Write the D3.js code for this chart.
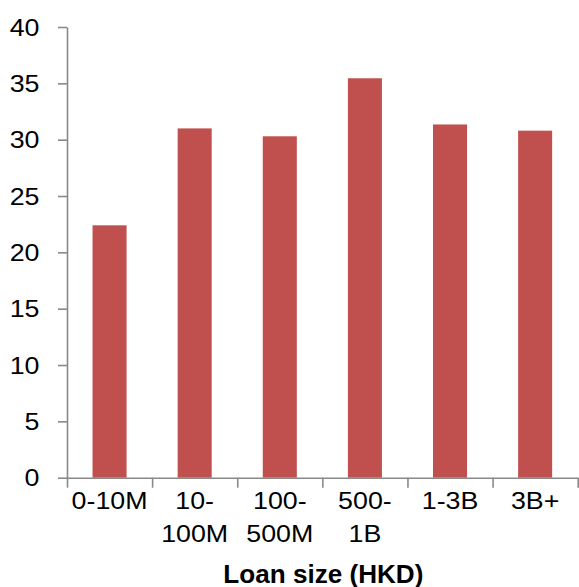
<!DOCTYPE html>
<html>
<head>
<meta charset="utf-8">
<script src="https://cdn.jsdelivr.net/npm/d3@7"></script>
<style>
  html, body { margin: 0; padding: 0; background: #fff; }
  svg { display: block; }
  text { font-family: "Liberation Sans", Arial, sans-serif; fill: #000; }
</style>
</head>
<body>
<div id="chart"></div>
<script>
// Share by loan size bucket (%)
const categories = ["0-10M", "10-100M", "100-500M", "500-1B", "1-3B", "3B+"];
const labelLines = [["0-10M"], ["10-", "100M"], ["100-", "500M"], ["500-", "1B"], ["1-3B"], ["3B+"]];
const values = [22.4, 31.0, 30.3, 35.45, 31.35, 30.8];
const yTicks = [0, 5, 10, 15, 20, 25, 30, 35, 40];
const xTitle = "Loan size (HKD)";

const W = 579, H = 587;
const plotLeft = 67, plotRight = 577.7, plotTop = 27, plotBottom = 477.7;
const stretch = "scale(1.14,1)";

const svg = d3.select("#chart").append("svg").attr("width", W).attr("height", H);

const x = d3.scaleBand().domain(categories).range([plotLeft, plotRight])
  .paddingInner(0.6).paddingOuter(0.3);
const y = d3.scaleLinear().domain([0, 40]).range([plotBottom, plotTop]);
// category boundaries for the x tick marks
const xEdge = d3.scaleLinear().domain([0, categories.length]).range([plotLeft, plotRight]);

// bars
svg.append("g").selectAll("rect").data(values).join("rect")
  .attr("x", (d, i) => x(categories[i]))
  .attr("width", x.bandwidth())
  .attr("y", d => y(d))
  .attr("height", d => y(0) - y(d))
  .attr("fill", "#C0504D");

// y axis
const gy = svg.append("g").attr("transform", `translate(${plotLeft},0)`)
  .call(d3.axisLeft(y).tickValues(yTicks).tickSize(9).tickSizeOuter(0));
gy.select(".domain").attr("stroke", "#898989").attr("stroke-width", 1.6);
gy.selectAll(".tick line").attr("stroke", "#898989").attr("stroke-width", 1.6);
gy.selectAll(".tick text")
  .attr("x", 0).attr("dy", "0.35em")
  .attr("transform", `translate(-27.5,0) ${stretch}`)
  .style("font-size", "23.5px")
  .attr("text-anchor", "end");

// x axis line and boundary ticks
const gx = svg.append("g").attr("transform", `translate(0,${plotBottom})`)
  .call(d3.axisBottom(xEdge).tickValues(d3.range(categories.length + 1))
    .tickSize(10).tickSizeOuter(0).tickFormat(""));
gx.select(".domain").attr("stroke", "#898989").attr("stroke-width", 1.6);
gx.selectAll(".tick line").attr("stroke", "#898989").attr("stroke-width", 1.6);

// category labels (wrapped)
const gl = svg.append("g").selectAll("g").data(categories).join("g")
  .attr("transform", (d, i) => `translate(${x(d) + x.bandwidth() / 2},0)`);
gl.each(function(d, i) {
  const g = d3.select(this);
  labelLines[i].forEach((line, j) => {
    g.append("text")
      .attr("transform", `translate(0,${509.3 + j * 32.4}) ${stretch}`)
      .attr("text-anchor", "middle")
      .style("font-size", "23.5px")
      .text(line);
  });
});

// axis title
svg.append("text")
  .attr("x", (plotLeft + plotRight) / 2 + 1)
  .attr("y", 582.5)
  .attr("text-anchor", "middle")
  .attr("textLength", 200)
  .attr("lengthAdjust", "spacingAndGlyphs")
  .style("font-size", "25.5px")
  .style("font-weight", "bold")
  .text(xTitle);
</script>
</body>
</html>
